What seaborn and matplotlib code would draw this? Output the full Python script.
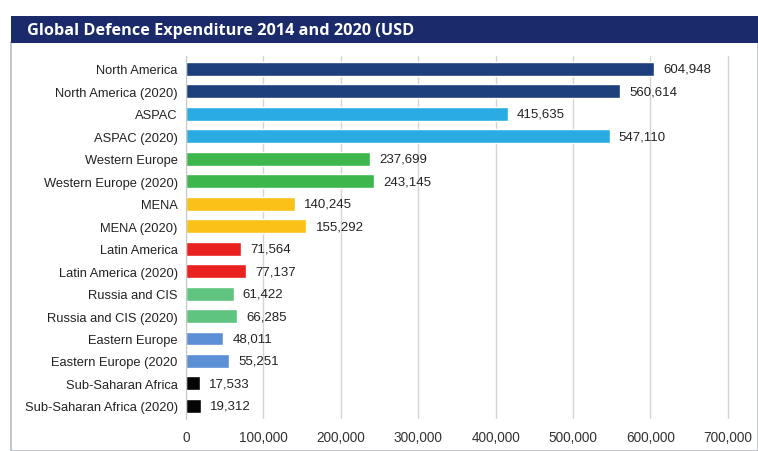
import matplotlib
matplotlib.use("Agg")
import matplotlib.pyplot as plt
import seaborn as sns
import pandas as pd
from matplotlib.patches import Rectangle

regions = ["North America", "North America (2020)", "ASPAC", "ASPAC (2020)",
           "Western Europe", "Western Europe (2020)", "MENA", "MENA (2020)",
           "Latin America", "Latin America (2020)", "Russia and CIS", "Russia and CIS (2020)",
           "Eastern Europe", "Eastern Europe (2020", "Sub-Saharan Africa", "Sub-Saharan Africa (2020)"]
spend = [604948, 560614, 415635, 547110, 237699, 243145, 140245, 155292,
         71564, 77137, 61422, 66285, 48011, 55251, 17533, 19312]
colors = ["#1d3f7c", "#1d3f7c", "#2aace2", "#2aace2", "#3db64b", "#3db64b",
          "#fbc116", "#fbc116", "#e9211f", "#e9211f", "#5fc47f", "#5fc47f",
          "#5b8fd6", "#5b8fd6", "#050505", "#050505"]
ticks = [0, 100000, 200000, 300000, 400000, 500000, 600000, 700000]

df = pd.DataFrame({"region": regions, "spend": spend})

sns.set_style("white")
plt.rcParams['font.family'] = ['Liberation Sans', 'DejaVu Sans']

fig = plt.figure(figsize=(7.58, 4.52), dpi=100)
fig.patch.set_facecolor("white")

# frame and title band
fig.patches.append(Rectangle((0.014, 0.0), 0.986, 0.905, transform=fig.transFigure,
                             facecolor="white", edgecolor="#b8bcc4", linewidth=1.2, zorder=0))
fig.patches.append(Rectangle((0.014, 0.903), 0.986, 0.059, transform=fig.transFigure,
                             facecolor="#1b2a6b", edgecolor="none", zorder=1))
fig.text(0.035, 0.932, "Global Defence Expenditure 2014 and 2020 (USD", color="white",
         fontsize=11.7, fontweight="bold", va="center", ha="left",
         family=["Open Sans", "DejaVu Sans"])

ax = fig.add_axes([0.2454, 0.07, 0.7506, 0.805])
ax.set_zorder(3)
sns.barplot(data=df, y="region", x="spend", hue="region", palette=colors,
            saturation=1, legend=False, width=0.62, ax=ax, orient="h")

for i, v in enumerate(spend):
    ax.text(v + 12000, i, f"{v:,}", va="center", ha="left", fontsize=9.5, color="#222222")

ax.set_xlim(0, 735000)
ax.set_xticks(ticks)
ax.set_xticklabels([f"{t:,}" for t in ticks], fontsize=9.8, color="#333333")
ax.tick_params(axis="y", labelsize=9.3, colors="#222222", length=0, pad=6)
ax.tick_params(axis="x", length=0, pad=8)
ax.xaxis.grid(True, color="#d4d4d4", linewidth=1)
ax.set_axisbelow(True)
ax.set_xlabel("")
ax.set_ylabel("")
for s in ["top", "right", "bottom"]:
    ax.spines[s].set_visible(False)
ax.spines["left"].set_color("#c8c8c8")
ax.set_ylim(15.6, -0.6)

fig.savefig("out.png", dpi=100, facecolor="white")
